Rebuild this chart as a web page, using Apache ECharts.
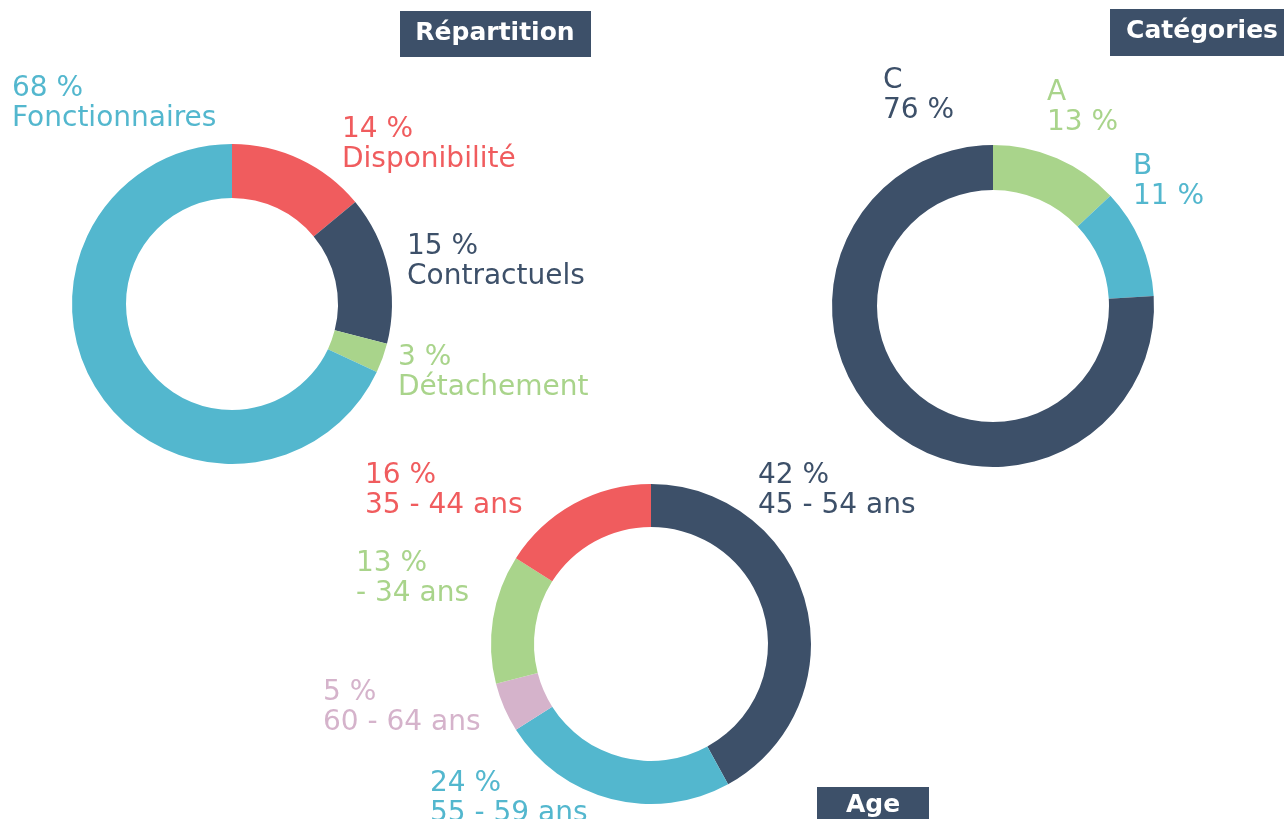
<!DOCTYPE html>
<html>
<head>
<meta charset="utf-8">
<script src="https://cdn.jsdelivr.net/npm/echarts@6/dist/echarts.min.js"></script>
<style>
  html, body { margin: 0; padding: 0; background: #fff; }
  #chart { width: 1284px; height: 819px; }
</style>
</head>
<body>
<div id="chart"></div>
<script>
// Répartition
const repartNames = ['Disponibilité', 'Contractuels', 'Détachement', 'Fonctionnaires'];
const repartValues = [14, 15, 3, 68];

// Catégories
const catNames = ['A', 'B', 'C'];
const catValues = [13, 11, 76];

// Age
const ageNames = ['45 - 54 ans', '55 - 59 ans', '60 - 64 ans', '- 34 ans', '35 - 44 ans'];
const ageValues = [42, 24, 5, 13, 16];

const NAVY = '#3d5069';
const BLUE = '#53b7ce';
const RED = '#f05c5e';
const GREEN = '#a9d48b';
const PINK = '#d5b3cb';

const repartColors = [RED, NAVY, GREEN, BLUE];
const catColors = [GREEN, BLUE, NAVY];
const ageColors = [NAVY, BLUE, PINK, GREEN, RED];

// label anchors (top-left of each two-line label)
const repartLabelPos = [[342, 115], [407, 232], [398, 343], [12, 74]];
const catLabelPos = [[1047, 78], [1133, 152], [883, 66]];
const ageLabelPos = [[758, 461], [430, 769], [323, 678], [356, 549], [365, 461]];

const FONT = '"DejaVu Sans", sans-serif';

function toData(names, values, colors) {
  return names.map((n, i) => ({
    name: n,
    value: values[i],
    itemStyle: { color: colors[i] },
    label: { color: colors[i] }
  }));
}

function donut(center, radius, data, positions, formatter) {
  return {
    type: 'pie',
    center: center,
    radius: radius,
    startAngle: 90,
    clockwise: true,
    silent: true,
    animation: false,
    itemStyle: { borderWidth: 0 },
    label: {
      show: true,
      position: 'outside',
      formatter: formatter,
      fontFamily: FONT,
      fontSize: 28,
      lineHeight: 30,
      align: 'left',
      overflow: 'none'
    },
    labelLine: { show: false },
    labelLayout: function (p) {
      const pos = positions[p.dataIndex];
      return { x: pos[0], y: pos[1], align: 'left', verticalAlign: 'top' };
    },
    data: data
  };
}

function titleBox(x, y, w, h, text, tx, ty) {
  return {
    type: 'group',
    children: [
      { type: 'rect', shape: { x: x, y: y, width: w, height: h }, style: { fill: NAVY } },
      {
        type: 'text',
        style: {
          x: tx, y: ty, text: text,
          fill: '#fff', font: 'bold 25px ' + FONT,
          align: 'center', verticalAlign: 'middle'
        }
      }
    ]
  };
}

const chart = echarts.init(document.getElementById('chart'));
chart.setOption({
  animation: false,
  series: [
    donut([232, 304], [106, 160], toData(repartNames, repartValues, repartColors), repartLabelPos, '{c} %\n{b}'),
    donut([993, 306], [116, 161], toData(catNames, catValues, catColors), catLabelPos, '{b}\n{c} %'),
    donut([651, 644], [117, 160], toData(ageNames, ageValues, ageColors), ageLabelPos, '{c} %\n{b}')
  ],
  graphic: [
    titleBox(400, 11, 191, 46, 'Répartition', 495, 33),
    titleBox(1110, 9, 180, 47, 'Catégories', 1202, 31),
    titleBox(817, 787, 112, 40, 'Age', 873, 805)
  ]
});
</script>
</body>
</html>
